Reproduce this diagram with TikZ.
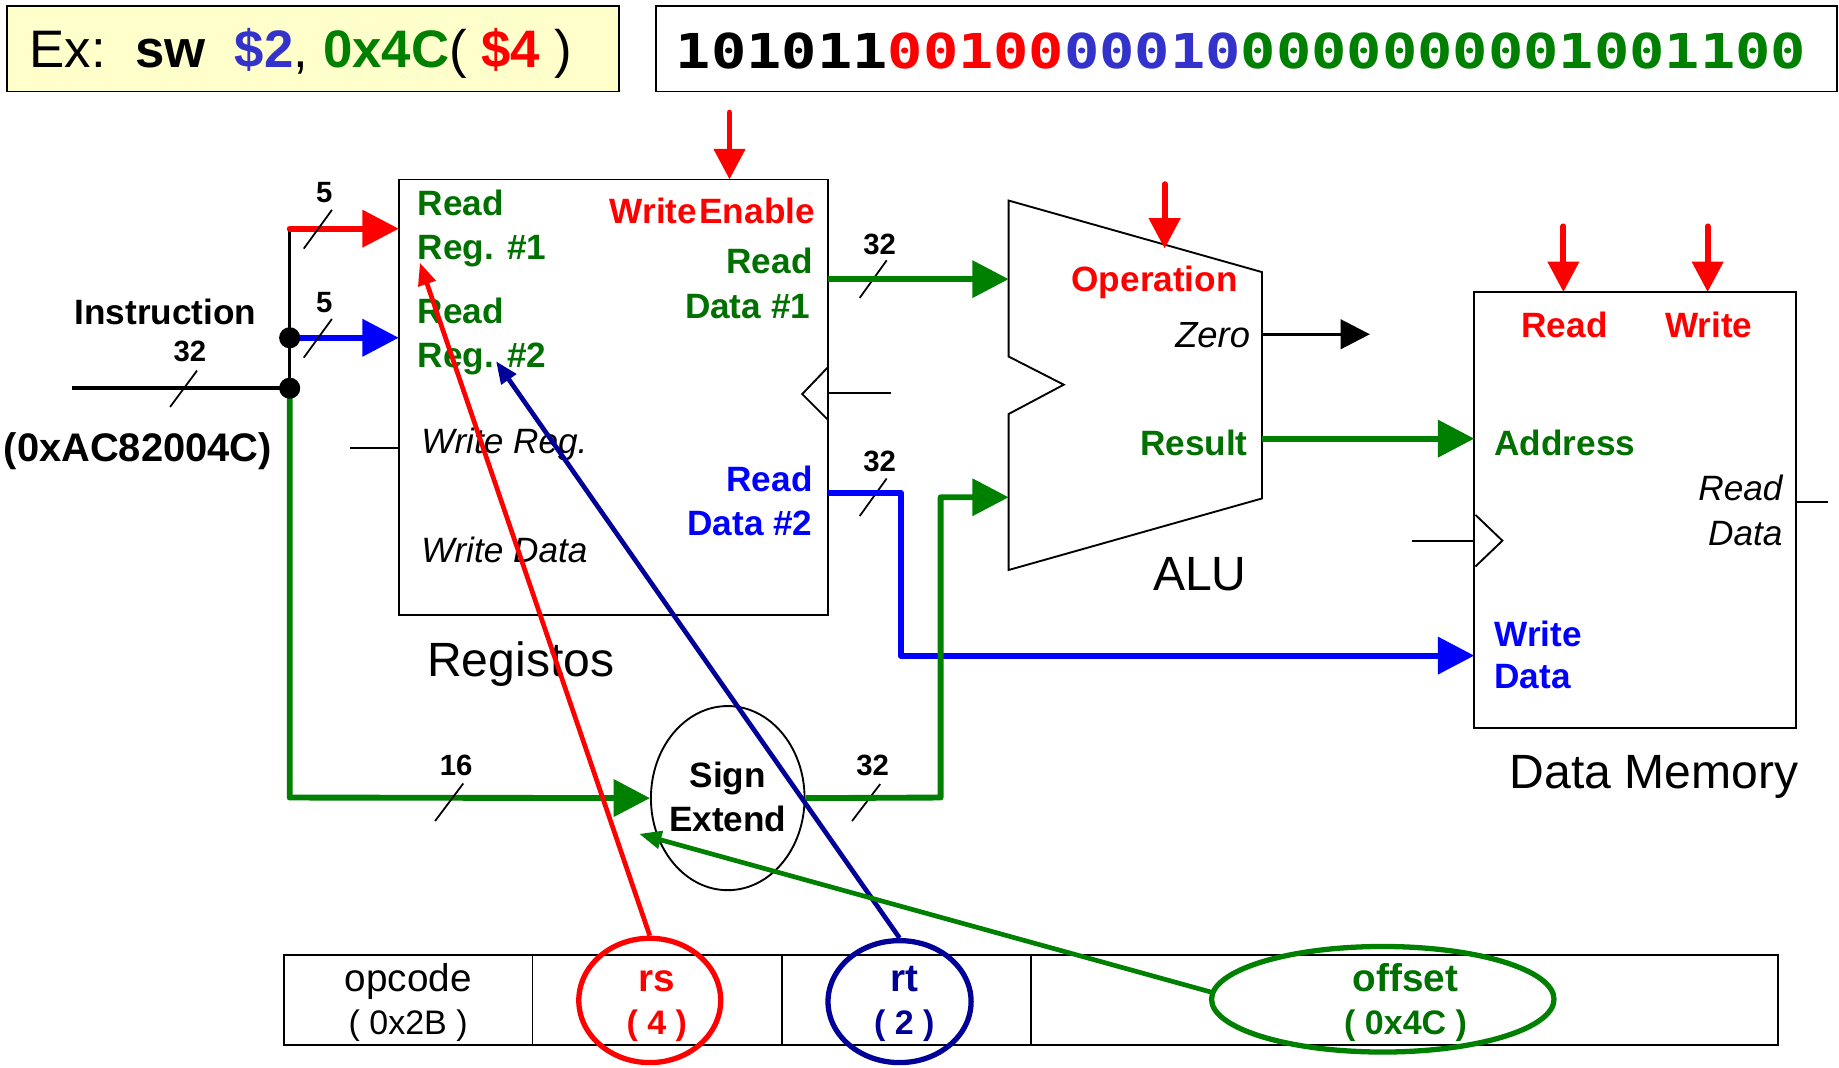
\documentclass[tikz,border=0pt]{standalone}
\usepackage{fontspec}
\setmainfont{Liberation Sans}
\newfontfamily\binfont{DejaVu Sans Mono}[FakeStretch=1.22]
\usetikzlibrary{arrows.meta,shapes.geometric}
\definecolor{gline}{RGB}{0,128,0}
\definecolor{gtext}{RGB}{0,112,0}
\definecolor{exblue}{RGB}{51,51,204}
\definecolor{navy}{RGB}{0,0,153}
\definecolor{pblue}{RGB}{0,0,255}
\definecolor{pred}{RGB}{255,0,0}
\definecolor{lyellow}{RGB}{255,255,204}
\tikzset{
 bx/.style={draw, line width=1.6pt, inner sep=0pt, outer sep=0pt},
 bus/.style={line width=5pt, line join=round, -{Triangle[length=31pt,width=31pt]}},
 ctl/.style={pred, line width=5pt, line cap=round, -{Triangle[length=26pt,width=26pt]}},
 ptr/.style={line width=4pt, -{Triangle[length=19pt,width=15pt]}},
 tk/.style={line width=1.5pt},
 lb/.style={inner sep=0pt, font=\fontsize{30}{36}\selectfont\bfseries},
 it/.style={inner sep=0pt, font=\fontsize{30}{36}\selectfont\itshape},
 big/.style={inner sep=0pt, font=\fontsize{41}{48}\selectfont},
 num/.style={inner sep=0pt, font=\fontsize{25}{30}\selectfont\bfseries},
 fld/.style={inner sep=0pt, font=\fontsize{33}{40}\selectfont},
 fldb/.style={inner sep=0pt, font=\fontsize{33}{40}\selectfont\bfseries},
 fsub/.style={inner sep=0pt, font=\fontsize{29}{35}\selectfont},
 fsubb/.style={inner sep=0pt, font=\fontsize{29}{35}\selectfont\bfseries},
 ring/.style={ellipse, line width=4.5pt, inner sep=0pt},
}
\begin{document}
\begin{tikzpicture}[x=1pt,y=-1pt]
\useasboundingbox (0,0) rectangle (1568,909.8);

% ---------- header boxes ----------
\node[bx, fill=lyellow, anchor=north west, minimum width=522pt, minimum height=73pt] (exbox) at (6,5) {};
\node[anchor=base west, inner sep=0pt, font=\fontsize{45}{54}\selectfont] (extxt) at (25,57.7)
  {Ex:\ \ \textbf{sw}\ \ \textcolor{exblue}{\textbf{\$2}}, \textcolor{gline}{\textbf{0x4C}}( \textcolor{pred}{\textbf{\$4}} )};
\node[bx, fill=white, anchor=north west, minimum width=1007pt, minimum height=73pt] (binbox) at (559,5) {};
\node[anchor=base west, inner sep=0pt, font={\binfont\bfseries\fontsize{41}{48}\selectfont}] (bintxt) at (576,58.3)
  {101011\textcolor{pred}{00100}\textcolor{exblue}{00010}\textcolor{gline}{0000000001001100}};

% ---------- register file ----------
\node[bx, anchor=north west, minimum width=366pt, minimum height=371pt] (reg) at (340,153) {};
\node[lb, gtext, anchor=base west] (r1a) at (356,183.4) {Read};
\node[lb, gtext, anchor=base west] (r1b) at (356,221) {Reg. \#1};
\node[lb, gtext, anchor=base west] (r2a) at (356,275.7) {Read};
\node[lb, gtext, anchor=base west] (r2b) at (356,313.5) {Reg. \#2};
\node[lb, pred, anchor=base east] (we) at (695,190.4) {Write\hspace{2pt}Enable};
\node[lb, gtext, anchor=base east] (rd1a) at (693,233) {Read};
\node[lb, gtext, anchor=base east] (rd1b) at (691,271.4) {Data \#1};
\node[lb, pblue, anchor=base east] (rd2a) at (693,419) {Read};
\node[lb, pblue, anchor=base east] (rd2b) at (693,457) {Data \#2};
\node[it, anchor=base west] (wr) at (359,387) {Write Reg.};
\node[it, anchor=base west] (wd) at (359,480) {Write Data};
\node[big, anchor=base west] (regl) at (364,576.4) {Registos};
\draw[line width=1.6pt] (706,313) -- (684,336) -- (706,358);
\coordinate (clkR) at (760,335);
\draw[line width=1.6pt] (clkR) -- (clkR -| reg.east);
\coordinate (wrL) at (298,382);
\draw[line width=1.6pt] (wrL) -- (wrL -| reg.west);

% ---------- ALU ----------
\coordinate (aluTL) at (860,171);
\coordinate (aluTR) at (1076,232);
\coordinate (aluBR) at (1076,425);
\coordinate (aluBL) at (860,486);
\draw[line width=1.6pt, line join=miter] (aluTL) -- (aluTR) -- (aluBR) -- (aluBL) -- (860,353) -- (907,328) -- (860,304) -- cycle;
\node[lb, pred, anchor=base] (op) at (984.5,248.7) {Operation};
\node[inner sep=0pt, font=\fontsize{31}{37}\selectfont\itshape, anchor=base east] (zero) at (1066,296) {Zero};
\node[lb, gtext, anchor=base east] (res) at (1064,388) {Result};
\node[big, anchor=base] (alul) at (1023,503.4) {ALU};

% ---------- data memory ----------
\node[bx, anchor=north west, minimum width=274pt, minimum height=372pt] (mem) at (1257,249) {};
\node[lb, pred, anchor=base] (mrd) at (1334,287.6) {Read};
\node[lb, pred, anchor=base] (mwr) at (1457,287.6) {Write};
\node[lb, gtext, anchor=base west] (maddr) at (1274,388) {Address};
\node[it, anchor=base east] (mrda) at (1520,427) {Read};
\node[it, anchor=base east] (mrdb) at (1520,464.8) {Data};
\node[lb, pblue, anchor=base west] (mwda) at (1274,551) {Write};
\node[lb, pblue, anchor=base west] (mwdb) at (1274,587.3) {Data};
\node[big, anchor=base west] (meml) at (1287,672) {Data Memory};
\draw[line width=1.6pt] (1258,439) -- (1281,461) -- (1258,483);
\coordinate (mclk) at (1204,461);
\draw[line width=1.6pt] (mclk) -- (mclk -| mem.west);
\coordinate (mout) at (1559,428);
\draw[line width=1.6pt] (mout -| mem.east) -- (mout);

% ---------- sign extend ----------
\node[draw, ellipse, line width=1.6pt, minimum width=131pt, minimum height=157pt, inner sep=0pt] (se) at (620.5,680.5) {};
\node[lb, black, anchor=base] (se1) at (620.5,671.5) {Sign};
\node[lb, black, anchor=base] (se2) at (620.5,708.6) {Extend};

% ---------- instruction input ----------
\node[lb, anchor=base] (instr) at (141,277) {Instruction};
\node[inner sep=0pt, font=\fontsize{34}{40}\selectfont\bfseries, anchor=base west] (ihex) at (3,393.6) {(0xAC82004C)};
\coordinate (iIn) at (61,331);
\coordinate (jR) at (247,195);
\coordinate (jB) at (247,288);
\coordinate (jI) at (247,331);
\coordinate (jG) at (247,680);
\draw[line width=3pt] (iIn) -- (jI);
\draw[line width=3pt] (jR) -- (jI);
\draw[bus, pred, line cap=round] (jR) -- (jR -| reg.west);
\draw[bus, pblue] (jB) -- (jB -| reg.west);
\draw[bus, gline] (jI) -- (jG) -- (se.west);
\fill (jB) circle (9pt);
\fill (jI) circle (9pt);

% widths
\node[num] (n5a) at (276.5,164.5) {5};
\draw[tk] (259,212) -- (283,179);
\node[num] (n5b) at (276.5,258) {5};
\draw[tk] (259,305) -- (283,272);
\node[num] (n32i) at (162,300) {32};
\draw[tk] (145,347) -- (168,316);
\node[num] (n32a) at (750,208) {32};
\draw[tk] (733,254) -- (756,222);
\node[num] (n32b) at (750,393.5) {32};
\draw[tk] (733,440) -- (756,408);
\node[num] (n16) at (389,653) {16};
\draw[tk] (371,700) -- (395,668);
\node[num] (n32s) at (744,653) {32};
\draw[tk] (726.5,700) -- (750.5,668.5);

% ---------- datapath buses ----------
\coordinate (rd1o) at (706,238);
\draw[bus, gline] (rd1o) -- (rd1o -| aluTL);
\coordinate (rd2o) at (706,420);
\coordinate (b1) at (768,420);
\coordinate (b2) at (768,559);
\draw[bus, pblue] (rd2o) -- (b1) -- (b2) -- (b2 -| mem.west);
\coordinate (sc1) at (802,680);
\coordinate (sc2) at (802,424);
\draw[bus, gline] (se.east) -- (sc1) -- (sc2) -- (sc2 -| aluTL);
\coordinate (resO) at (1076,374);
\draw[bus, gline] (resO) -- (resO -| mem.west);
\coordinate (zO) at (1076,285);
\coordinate (zE) at (1168,285);
\draw[line width=3pt, -{Triangle[length=25pt,width=25pt]}] (zO) -- (zE);

% ---------- control arrows ----------
\coordinate (weT) at (622,96);
\draw[ctl] (weT) -- (weT |- reg.north);
\coordinate (opT) at (993,157);
\coordinate (opB) at (993,212);
\draw[ctl] (opT) -- (opB);
\coordinate (mrT) at (1333,193);
\draw[ctl] (mrT) -- (mrT |- mem.north);
\coordinate (mwT) at (1456,193);
\draw[ctl] (mwT) -- (mwT |- mem.north);

% ---------- instruction fields ----------
\node[bx, anchor=north west, minimum width=212pt, minimum height=77pt] (fop) at (242,814) {};
\node[bx, anchor=north west, minimum width=213pt, minimum height=77pt] (frs) at (454,814) {};
\node[bx, anchor=north west, minimum width=212pt, minimum height=77pt] (frt) at (667,814) {};
\node[bx, anchor=north west, minimum width=637pt, minimum height=77pt] (foff) at (879,814) {};
\node[fld, anchor=base] (t1a) at (348,845.7) {opcode};
\node[fsub, anchor=base] (t1b) at (348,882) {( 0x2B )};
\node[fldb, pred, anchor=base] (t2a) at (560,845.7) {rs};
\node[fsubb, pred, anchor=base] (t2b) at (560,882) {( 4 )};
\node[fldb, navy, anchor=base] (t3a) at (771,845.7) {rt};
\node[fsubb, navy, anchor=base] (t3b) at (771,882) {( 2 )};
\node[fldb, gtext, anchor=base] (t4a) at (1198.5,845.7) {offset};
\node[fsubb, gtext, anchor=base] (t4b) at (1198.5,882) {( 0x4C )};

\node[ring, draw=pred, minimum width=121pt, minimum height=106pt] (rsE) at (554,853) {};
\node[ring, draw=navy, minimum width=122pt, minimum height=104pt] (rtE) at (767,854) {};
\node[ring, draw=gline, minimum width=292pt, minimum height=90pt] (offE) at (1179,852) {};

% ---------- pointers ----------
\coordinate (p1) at (358,224);
\draw[ptr, pred] (rsE.north) -- (p1);
\coordinate (p2) at (423,308);
\draw[ptr, navy] (rtE.north) -- (p2);
\coordinate (p3s) at (1033,846);
\coordinate (p3) at (545,711);
\draw[ptr, gline] (p3s) -- (p3);
\end{tikzpicture}
\end{document}
